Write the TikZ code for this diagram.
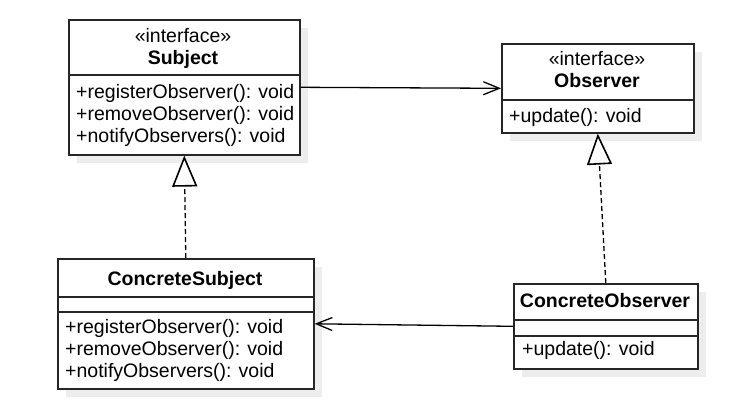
\documentclass[tikz,border=0pt]{standalone}
\usepackage{fontspec}
\setmainfont{Liberation Sans}
\usetikzlibrary{arrows.meta,shadows}
\begin{document}
\begin{tikzpicture}[x=1pt,y=-1pt,
  umlbox/.style={draw=black!85, line width=1.6pt, fill=white, inner sep=0pt, anchor=north west,
    drop shadow={shadow xshift=8pt, shadow yshift=-8pt, fill=black!7, opacity=1}},
  divline/.style={draw=black!85, line width=1.6pt},
  txt/.style={inner sep=0pt, anchor=base, font=\fontsize{19.5}{23}\selectfont},
  mtxt/.style={txt, anchor=base west},
  ttl/.style={txt, font=\fontsize{19.5}{23}\selectfont\bfseries},
  assoc/.style={line width=1.3pt, -{Straight Barb[length=16pt, width=13pt, line width=1.3pt]}},
  real/.style={line width=1.3pt, dash pattern=on 5pt off 3pt,
    -{Triangle[open, length=31pt, width=25pt, fill=white, line width=1.6pt]}}
]
\useasboundingbox (0,0) rectangle (742,405);

% Subject
\node[umlbox, minimum width=231pt, minimum height=135pt] (subj) at (68,19) {};
\draw[divline] (subj.west |- 0,75) -- (subj.east |- 0,75);
\node[txt] (subjst) at (183,42) {«interface»};
\node[ttl] (subjt) at (183,64) {Subject};
\node[mtxt] (subjm1) at (76,98) {+registerObserver(): void};
\node[mtxt] (subjm2) at (76,120) {+removeObserver(): void};
\node[mtxt] (subjm3) at (76,142) {+notifyObservers(): void};

% Observer
\node[umlbox, minimum width=192pt, minimum height=89pt] (obs) at (501,43) {};
\draw[divline] (obs.west |- 0,100) -- (obs.east |- 0,100);
\node[txt] (obsst) at (597,65) {«interface»};
\node[ttl] (obst) at (597,87) {Observer};
\node[mtxt] (obsm1) at (509,122) {+update(): void};

% ConcreteSubject
\node[umlbox, minimum width=256pt, minimum height=130pt] (csub) at (57,258) {};
\draw[divline] (csub.west |- 0,297) -- (csub.east |- 0,297);
\draw[divline] (csub.west |- 0,312) -- (csub.east |- 0,312);
\node[ttl] (csubt) at (185,285) {ConcreteSubject};
\node[mtxt] (csubm1) at (65,333) {+registerObserver(): void};
\node[mtxt] (csubm2) at (65,355) {+removeObserver(): void};
\node[mtxt] (csubm3) at (65,377) {+notifyObservers(): void};

% ConcreteObserver
\node[umlbox, minimum width=184pt, minimum height=85pt] (cobs) at (513,283) {};
\draw[divline] (cobs.west |- 0,320) -- (cobs.east |- 0,320);
\draw[divline] (cobs.west |- 0,336) -- (cobs.east |- 0,336);
\node[ttl] (cobst) at (605,307) {ConcreteObserver};
\node[mtxt] (cobsm1) at (522,355) {+update(): void};

% Connectors
\draw[assoc] (subj.east) -- (obs.west);
\draw[assoc] (cobs.west) -- (csub.east);
\draw[real] (csub.north) -- (subj.south);
\draw[real] (cobs.north) -- (obs.south);
\end{tikzpicture}
\end{document}
